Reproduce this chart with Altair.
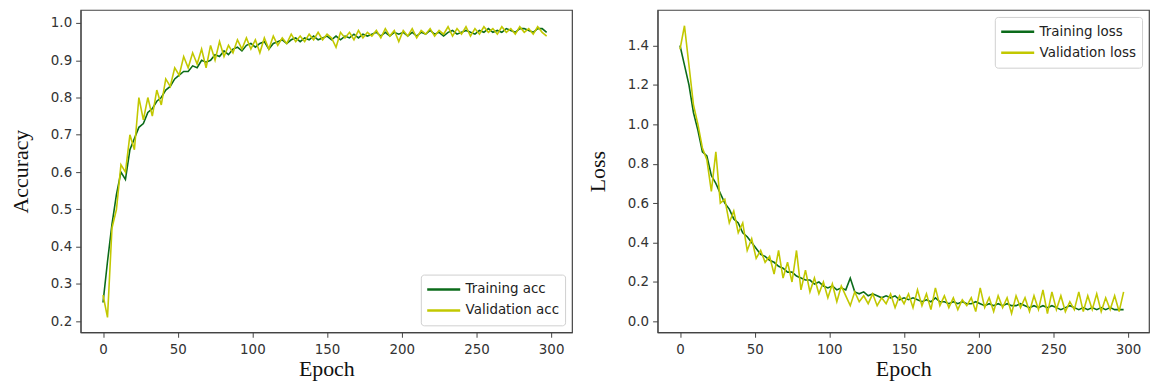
import altair as alt
import pandas as pd

epochs = list(range(0, 300, 3))

train_acc = [0.25, 0.36, 0.46, 0.54, 0.60, 0.58, 0.66, 0.69, 0.72, 0.73,
             0.76, 0.77, 0.79, 0.80, 0.82, 0.83, 0.85, 0.86, 0.87, 0.87,
             0.885, 0.88, 0.90, 0.895, 0.90, 0.915, 0.91, 0.925, 0.915, 0.93,
             0.935, 0.925, 0.94, 0.945, 0.935, 0.945, 0.95, 0.93, 0.945, 0.95,
             0.955, 0.945, 0.955, 0.96, 0.95, 0.96, 0.955, 0.965, 0.955, 0.96,
             0.965, 0.955, 0.965, 0.955, 0.965, 0.96, 0.97, 0.96, 0.97, 0.965,
             0.97, 0.975, 0.965, 0.975, 0.965, 0.975, 0.97, 0.975, 0.965, 0.975,
             0.965, 0.975, 0.97, 0.98, 0.97, 0.975, 0.965, 0.975, 0.98, 0.97,
             0.975, 0.98, 0.975, 0.97, 0.98, 0.975, 0.985, 0.975, 0.98, 0.975,
             0.985, 0.98, 0.975, 0.985, 0.985, 0.98, 0.975, 0.985, 0.985, 0.975]

val_acc = [0.27, 0.21, 0.45, 0.50, 0.62, 0.60, 0.70, 0.66, 0.80, 0.74,
           0.80, 0.75, 0.82, 0.78, 0.85, 0.83, 0.88, 0.86, 0.91, 0.88,
           0.92, 0.89, 0.93, 0.88, 0.94, 0.90, 0.95, 0.91, 0.94, 0.92,
           0.955, 0.93, 0.96, 0.93, 0.955, 0.92, 0.96, 0.93, 0.965, 0.94,
           0.96, 0.945, 0.97, 0.95, 0.965, 0.95, 0.97, 0.955, 0.975, 0.955,
           0.97, 0.96, 0.935, 0.975, 0.96, 0.975, 0.955, 0.98, 0.96, 0.975,
           0.965, 0.98, 0.96, 0.985, 0.965, 0.98, 0.95, 0.98, 0.965, 0.985,
           0.96, 0.98, 0.97, 0.985, 0.965, 0.98, 0.97, 0.99, 0.965, 0.985,
           0.97, 0.99, 0.965, 0.985, 0.97, 0.99, 0.975, 0.985, 0.97, 0.99,
           0.975, 0.985, 0.97, 0.99, 0.975, 0.985, 0.97, 0.99, 0.975, 0.965]

train_loss = [1.40, 1.30, 1.20, 1.06, 0.97, 0.86, 0.84, 0.74, 0.70, 0.65,
              0.60, 0.57, 0.52, 0.50, 0.45, 0.43, 0.40, 0.37, 0.34, 0.33,
              0.31, 0.30, 0.28, 0.27, 0.25, 0.25, 0.23, 0.22, 0.21, 0.21,
              0.19, 0.20, 0.18, 0.17, 0.18, 0.16, 0.17, 0.16, 0.22, 0.15,
              0.14, 0.15, 0.13, 0.14, 0.13, 0.12, 0.13, 0.12, 0.13, 0.11,
              0.12, 0.11, 0.12, 0.11, 0.10, 0.11, 0.10, 0.12, 0.10, 0.10,
              0.09, 0.10, 0.09, 0.10, 0.09, 0.09, 0.10, 0.09, 0.08, 0.09,
              0.08, 0.09, 0.08, 0.09, 0.08, 0.08, 0.09, 0.08, 0.07, 0.08,
              0.07, 0.08, 0.07, 0.08, 0.07, 0.06, 0.07, 0.08, 0.07, 0.06,
              0.07, 0.06, 0.07, 0.06, 0.07, 0.06, 0.07, 0.06, 0.06, 0.06]

val_loss = [1.38, 1.50, 1.30, 1.10, 1.00, 0.88, 0.82, 0.66, 0.86, 0.60,
            0.62, 0.50, 0.56, 0.45, 0.50, 0.36, 0.42, 0.32, 0.36, 0.30,
            0.33, 0.24, 0.36, 0.22, 0.30, 0.20, 0.36, 0.16, 0.26, 0.15,
            0.22, 0.14, 0.20, 0.12, 0.19, 0.10, 0.18, 0.13, 0.08, 0.15,
            0.10, 0.13, 0.09, 0.14, 0.08, 0.12, 0.09, 0.14, 0.07, 0.13,
            0.09, 0.14, 0.07, 0.16, 0.08, 0.14, 0.06, 0.17, 0.08, 0.13,
            0.07, 0.12, 0.06, 0.11, 0.08, 0.12, 0.05, 0.17, 0.07, 0.12,
            0.05, 0.13, 0.07, 0.12, 0.04, 0.13, 0.07, 0.12, 0.05, 0.13,
            0.06, 0.16, 0.04, 0.15, 0.06, 0.13, 0.05, 0.10, 0.06, 0.15,
            0.05, 0.13, 0.06, 0.14, 0.05, 0.12, 0.06, 0.13, 0.05, 0.15]

x_ticks = [0, 50, 100, 150, 200, 250, 300]
acc_ticks = [0.2, 0.3, 0.4, 0.5, 0.6, 0.7, 0.8, 0.9, 1.0]
loss_ticks = [0.0, 0.2, 0.4, 0.6, 0.8, 1.0, 1.2, 1.4]

TRAIN_COLOR = "#0b6b1a"
VAL_COLOR = "#c2c800"
SERIF = "Liberation Serif"
SANS = "DejaVu Sans"

acc_df = pd.concat([
    pd.DataFrame({"epoch": epochs, "value": train_acc, "series": "Training acc", "ord": 0}),
    pd.DataFrame({"epoch": epochs, "value": val_acc, "series": "Validation acc", "ord": 1}),
])
loss_df = pd.concat([
    pd.DataFrame({"epoch": epochs, "value": train_loss, "series": "Training loss", "ord": 0}),
    pd.DataFrame({"epoch": epochs, "value": val_loss, "series": "Validation loss", "ord": 1}),
])

W, H = 494, 324


def panel(df, names, ydomain, yticks, ytitle, legend_orient):
    x = alt.X("epoch:Q",
              scale=alt.Scale(domain=[-15, 314], nice=False, zero=False),
              axis=alt.Axis(values=x_ticks, title="Epoch", grid=False, format="d",
                            labelPadding=5, titlePadding=3))
    y = alt.Y("value:Q",
              scale=alt.Scale(domain=ydomain, nice=False, zero=False),
              axis=alt.Axis(values=yticks, title=ytitle, grid=False, format=".1f",
                            labelPadding=4, titlePadding=18))
    color = alt.Color("series:N",
                      scale=alt.Scale(domain=names, range=[TRAIN_COLOR, VAL_COLOR]),
                      legend=alt.Legend(title=None, orient=legend_orient,
                                        symbolType="stroke", symbolSize=1100,
                                        symbolStrokeWidth=2.5, clipHeight=20,
                                        labelFont=SANS, labelFontSize=13.5,
                                        labelColor="#222",
                                        fillColor="white", strokeColor="#d0d0d0",
                                        cornerRadius=3, padding=5, rowPadding=1,
                                        offset=7))
    return alt.Chart(df).mark_line(strokeWidth=1.6, clip=True).encode(
        x=x, y=y, color=color, detail="series:N", order=alt.Order("ord:Q")
    ).properties(width=W, height=H)


left = panel(acc_df, ["Training acc", "Validation acc"], [0.17, 1.035], acc_ticks,
             "Accuracy", "bottom-right")
right = panel(loss_df, ["Training loss", "Validation loss"], [-0.055, 1.58], loss_ticks,
              "Loss", "top-right")

chart = alt.hconcat(
    left, right, spacing=12,
    padding={"left": 0, "top": 0, "right": 0, "bottom": 0},
).resolve_scale(color="independent").configure_view(
    stroke="#444", strokeWidth=1.2
).configure_axis(
    domainColor="#444", tickColor="#444", tickSize=5,
    labelFont=SANS, labelFontSize=13.5, labelColor="#333",
    titleFont=SERIF, titleFontSize=22, titleFontWeight="normal", titleColor="#111"
)

chart.save("out.html", embed_options={"renderer": "svg", "actions": False})
